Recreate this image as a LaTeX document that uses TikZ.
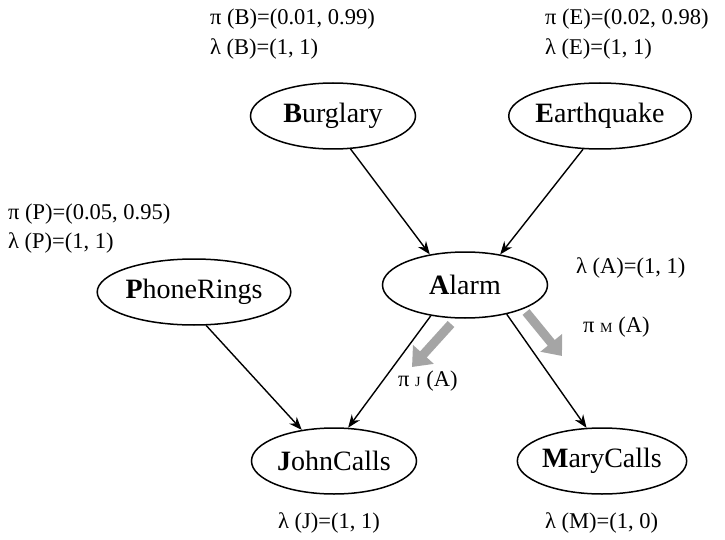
\documentclass[tikz,border=0pt]{standalone}
\usepackage{fontspec}
\setmainfont{Liberation Serif}
\usetikzlibrary{arrows.meta,shapes.geometric}
\definecolor{arrgray}{RGB}{165,165,165}
\begin{document}
\begin{tikzpicture}[x=1pt,y=-1pt,
  bnode/.style={ellipse,draw,line width=1.5pt,minimum width=165pt,minimum height=66pt,inner sep=0pt,font=\fontsize{28}{30}\selectfont},
  lbl/.style={anchor=west,inner sep=0pt,font=\fontsize{22.5}{24}\selectfont},
  edge/.style={line width=1.4pt,-{Stealth[length=13pt,width=10pt]}},
  msg/.style={arrgray,line width=9pt,-{Triangle[length=17pt,width=27pt]}}]
\useasboundingbox (0,0) rectangle (725,540);
\node[bnode] (B) at (333,116) {\textbf{B}urglary};
\node[bnode] (E) at (600,116) {\textbf{E}arthquake};
\node[bnode] (A) at (465,285) {\textbf{A}larm};
\node[bnode] (P) at (194,292) {\textbf{P}honeRings};
\node[bnode] (J) at (334,461) {\textbf{J}ohnCalls};
\node[bnode] (M) at (602,461) {\textbf{M}aryCalls};

\node[lbl] (piB) at (210,19) {π (B)=(0.01, 0.99)};
\node[lbl] (laB) at (210,49) {λ (B)=(1, 1)};
\node[lbl] (piE) at (545,19) {π (E)=(0.02, 0.98)};
\node[lbl] (laE) at (545,49) {λ (E)=(1, 1)};
\node[lbl] (piP) at (8,214) {π (P)=(0.05, 0.95)};
\node[lbl] (laP) at (8,243) {λ (P)=(1, 1)};
\node[lbl] (laA) at (576,268) {λ (A)=(1, 1)};
\node[lbl] (piM) at (583,327) {π {\fontsize{14}{14}\selectfont M} (A)};
\node[lbl] (piJ) at (398,381) {π {\fontsize{14}{14}\selectfont J} (A)};
\node[lbl] (laJ) at (278,523) {λ (J)=(1, 1)};
\node[lbl] (laM) at (545,523) {λ (M)=(1, 0)};

\draw[edge] (B.-62) -- (A.139);
\draw[edge] (E.-117) -- (A.41);
\draw[edge] (P.-70) -- (J.136);
\draw[edge] (A.-138) -- (J.67);
\draw[edge] (A.-35) -- (M.115);

\coordinate (gJs) at (451,324);
\coordinate (gJe) at (412,367);
\coordinate (gMs) at (526,312);
\coordinate (gMe) at (562,356);
\draw[msg] (gJs) -- (gJe);
\draw[msg] (gMs) -- (gMe);
\end{tikzpicture}
\end{document}
